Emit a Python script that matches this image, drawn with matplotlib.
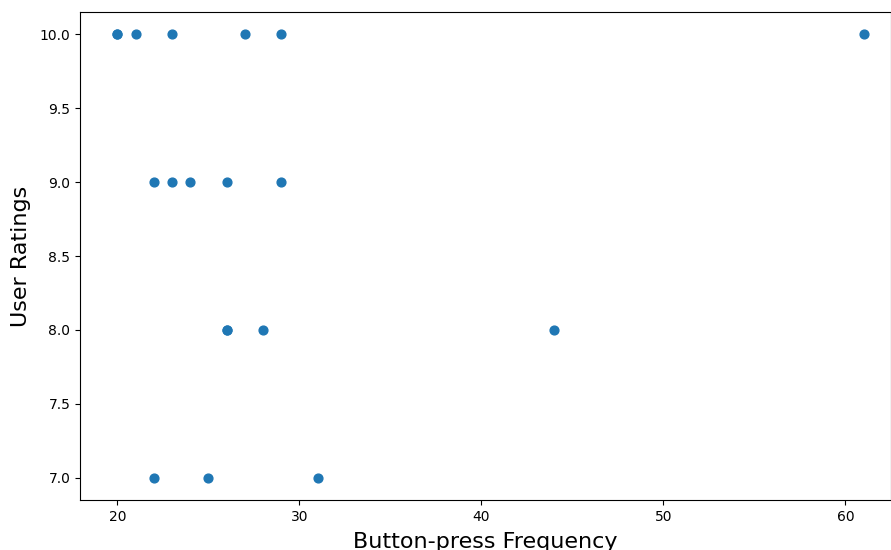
import matplotlib
matplotlib.use("Agg")
import matplotlib.pyplot as plt
from matplotlib.ticker import MultipleLocator

# button-press frequency vs rating
freq = [20, 20, 21, 23, 27, 29, 61,
        22, 23, 24, 26, 29,
        26, 26, 28, 44,
        22, 25, 31]
ratings = [10, 10, 10, 10, 10, 10, 10,
           9, 9, 9, 9, 9,
           8, 8, 8, 8,
           7, 7, 7]

fig = plt.figure(figsize=(8.91, 5.5), dpi=100)
ax = fig.add_axes([0.0898, 0.0909, 0.91, 0.887])
ax.scatter(freq, ratings, s=40, color='#1f77b4')
ax.set_xlim(17.95, 62.5)
ax.xaxis.set_major_locator(MultipleLocator(10))
ax.set_xlabel("Button-press Frequency", fontsize=16, labelpad=6)
ax.set_ylabel("User Ratings", fontsize=16, labelpad=6)
fig.savefig("out.png", dpi=100)
